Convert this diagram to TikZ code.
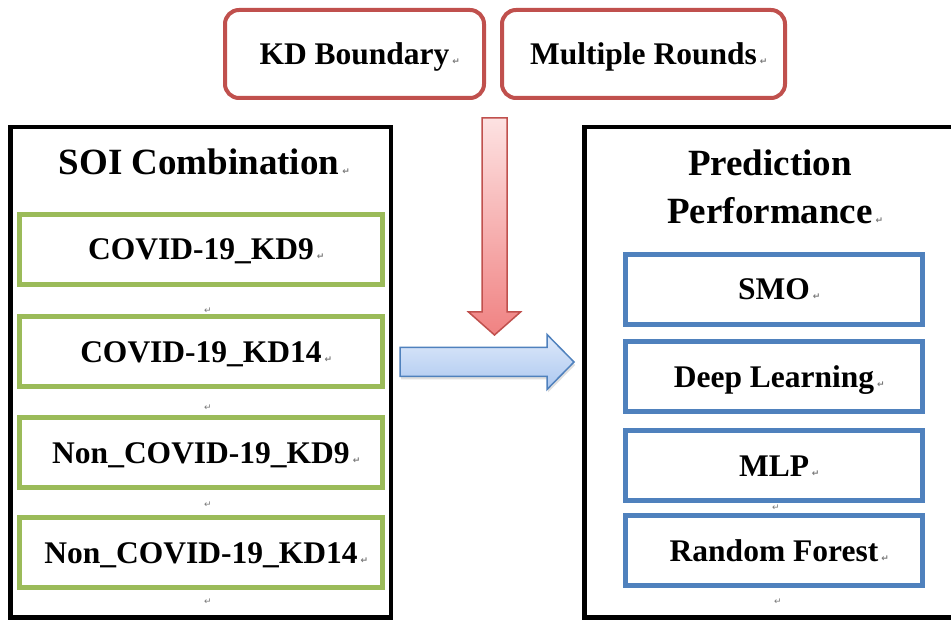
\documentclass[tikz,border=0pt]{standalone}
\usepackage{fontspec}
\setmainfont{Liberation Serif}
\newfontfamily\markfont{DejaVu Sans}
\usetikzlibrary{positioning,shadows,calc}
\definecolor{kdred}{RGB}{192,80,77}
\definecolor{soigreen}{RGB}{155,187,89}
\definecolor{modelblue}{RGB}{79,129,189}
\definecolor{markgray}{RGB}{120,120,120}
\definecolor{redlight}{RGB}{253,226,226}
\definecolor{reddeep}{RGB}{240,130,130}
\definecolor{bluelight}{RGB}{222,233,250}
\definecolor{bluedeep}{RGB}{172,200,240}
\newcommand\retmark{\rlap{\hspace{3pt}{\fontsize{9}{9}\markfont\color{markgray}↵}}}

\begin{document}
\begin{tikzpicture}[x=1pt,y=1pt,
  topbox/.style={draw=kdred, line width=4pt, rounded corners=14pt,
    minimum height=88pt, font=\fontsize{31.5}{36}\selectfont\bfseries,
    text height=21pt, text depth=0pt},
  groupbox/.style={draw=black, line width=4.5pt, minimum width=380.5pt,
    minimum height=490.5pt},
  soibox/.style={draw=soigreen, fill=white, line width=5pt, minimum width=363pt,
    minimum height=70pt, font=\fontsize{31.5}{36}\selectfont\bfseries,
    text height=21pt, text depth=0pt},
  modelbox/.style={draw=modelblue, fill=white, line width=5pt, minimum width=297pt,
    minimum height=70pt, font=\fontsize{31.5}{36}\selectfont\bfseries,
    text height=21pt, text depth=0pt},
  heading/.style={font=\fontsize{37}{48}\selectfont\bfseries},
  lonemark/.style={font=\fontsize{9}{9}\markfont, text=markgray, inner sep=0pt},
  redflow/.style={draw=kdred, line width=1.5pt, top color=redlight,
    bottom color=reddeep, line join=miter},
  blueflow/.style={draw=modelblue, line width=1.5pt, top color=bluelight,
    bottom color=bluedeep, line join=miter,
    drop shadow={shadow xshift=1pt, shadow yshift=-3pt, opacity=.25}}]
\useasboundingbox (0,0) rectangle (951,621);
\clip (0,0) rectangle (951,621);
\fill[white] (0,0) rectangle (951,621);

\node[topbox, minimum width=259pt] (kd) at (354.5,567) {KD Boundary\retmark};
\node[topbox, minimum width=283pt] (rounds) at (643.5,567) {Multiple Rounds\retmark};

\node[groupbox] (soi) at (200.5,248.5) {};
\node[groupbox, minimum width=373.5pt] (pred) at (771,248.5) {};

\node[heading, anchor=base] (soititle) at (199,446) {SOI Combination\retmark};
\node[heading, align=center] (predtitle) at (770,434.5) {Prediction\\Performance\retmark};

\node[lonemark] (m1) at (208,310) {↵};
\node[lonemark] (m2) at (208,213) {↵};
\node[lonemark] (m3) at (208,116) {↵};
\node[lonemark] (m4) at (208,19) {↵};
\node[lonemark] (m5) at (776,113) {↵};
\node[lonemark] (m6) at (778,19) {↵};

\node[soibox] (kd9) at (201,371.5) {COVID-19\_KD9\retmark};
\node[soibox] (kd14) at (201,269) {COVID-19\_KD14\retmark};
\node[soibox] (nkd9) at (201,168) {Non\_COVID-19\_KD9\retmark};
\node[soibox] (nkd14) at (201,68) {Non\_COVID-19\_KD14\retmark};

\node[modelbox] (smo) at (774,331.5) {SMO\retmark};
\node[modelbox] (deep) at (774,244) {Deep Learning\retmark};
\node[modelbox] (mlp) at (774,155) {MLP\retmark};
\node[modelbox] (forest) at (774,70) {Random Forest\retmark};

\coordinate (rtop) at ($(kd.east)!.5!(rounds.west)+(1.5,-64)$);
\coordinate (rtip) at (494.5,286);
\draw[redflow] (rtop) ++(-12.5,0) -- ++(25,0) -- ++(0,-194) -- ++(13.5,0)
  -- (rtip) -- ++(-26,23) -- ++(13.5,0) -- cycle;

\coordinate (bstart) at (400,259);
\coordinate (btip) at (574,259);
\draw[blueflow] (bstart) ++(0,14.5) -- ++(147,0) -- ++(0,13) -- (btip)
  -- ++(-27,-27.5) -- ++(0,13) -- ++(-147,0) -- cycle;
\end{tikzpicture}
\end{document}
